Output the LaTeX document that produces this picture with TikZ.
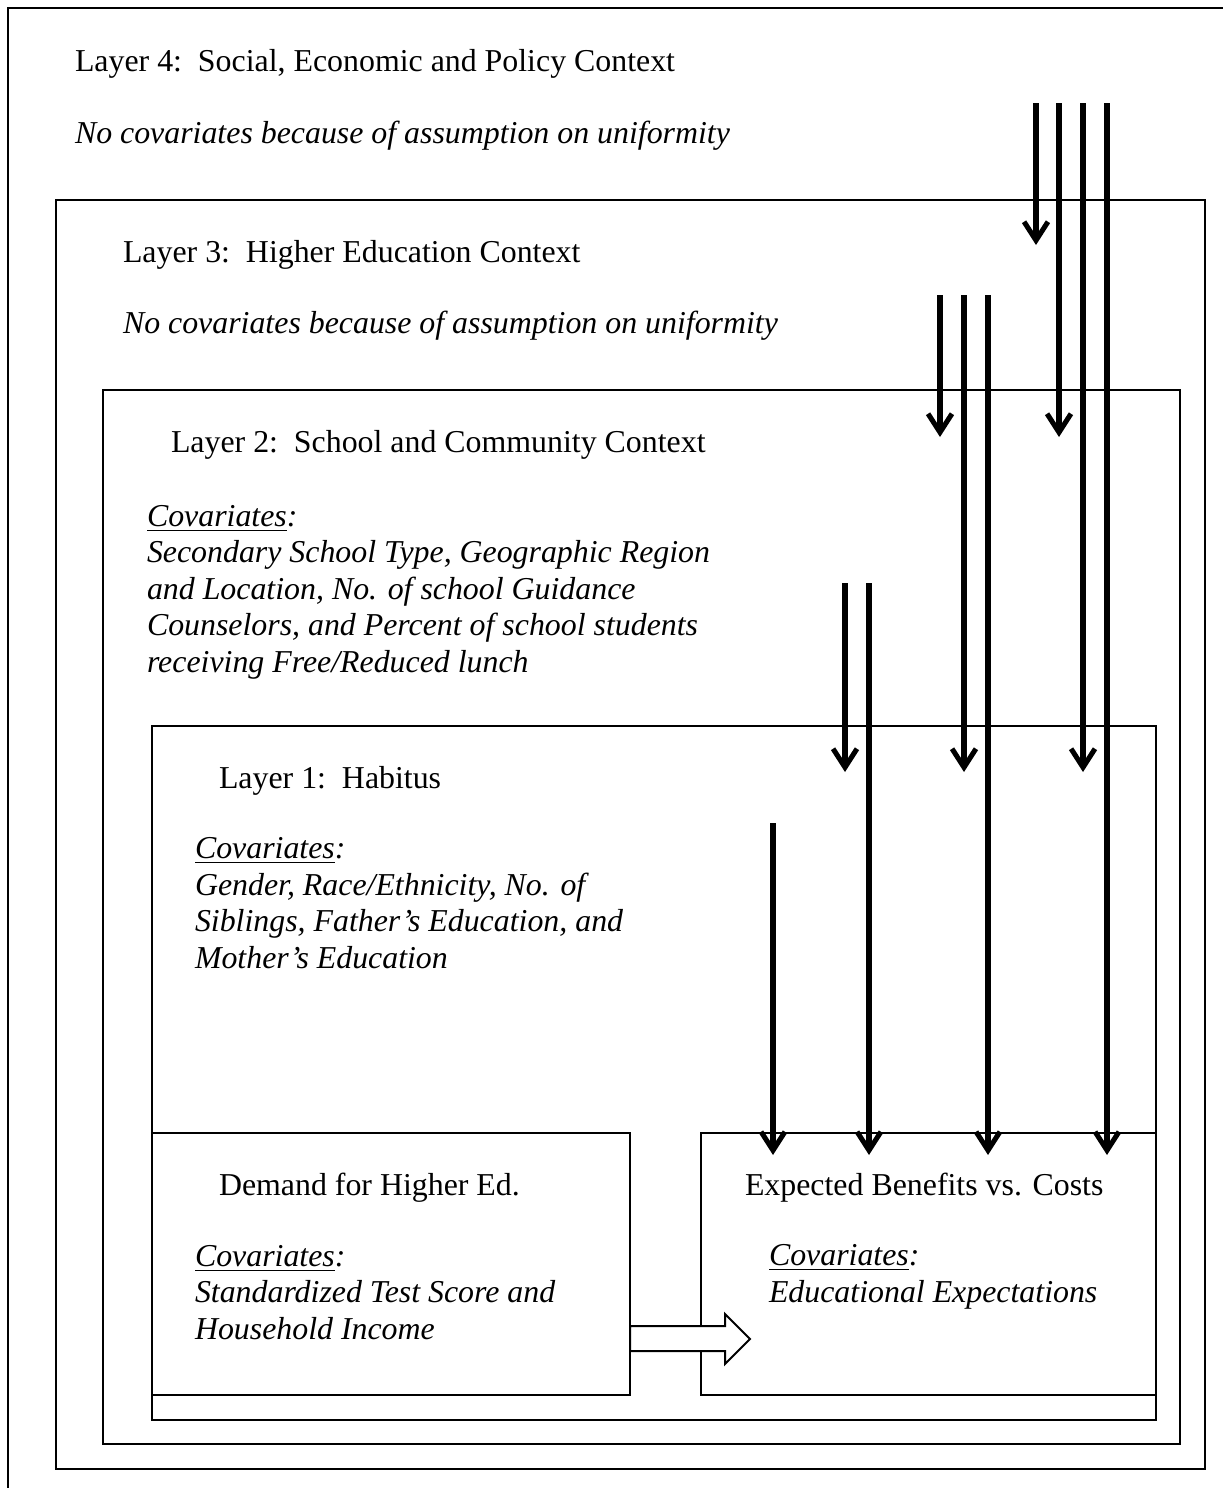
\documentclass[tikz,border=0pt]{standalone}
\usepackage{fontspec}
\setmainfont{Liberation Serif}
\usepackage{tikz}
\usetikzlibrary{arrows.meta,fit,calc}

\begin{document}
\begin{tikzpicture}[x=0.3766pt, y=-0.3766pt, outer sep=0pt, font=\fontsize{12}{13.7}\selectfont]

\tikzstyle{layer}=[draw, rectangle, line width=0.75pt, inner sep=0pt]
\tikzstyle{title}=[anchor=base west, inner sep=0pt]
\tikzstyle{covs}=[anchor=base west, inner sep=0pt, align=left, font=\fontsize{12}{13.7}\selectfont\itshape]
\tikzstyle{flow}=[line width=1.9pt, -{Straight Barb[length=7pt,width=9pt]}]
\tikzstyle{block}=[draw, line width=0.75pt, fill=white]

\useasboundingbox (0,0) rectangle (1223,1488);
\clip (0,0) rectangle (1223,1488);

% nested layers
\node[layer, fit={(8,8) (1240,1500)}] (l4) {};
\node[layer, fit={(56,200) (1205,1469)}] (l3) {};
\node[layer, fit={(103,390) (1180,1444)}] (l2) {};
\node[layer, fit={(152,726) (1156,1420)}] (l1) {};
\node[layer, fit={(152,1133) (630,1395)}] (demand) {};
\node[layer, fit={(701,1133) (1156,1395)}] (benefit) {};

% texts (multi-line ones sit on the baseline of their last line)
\node[title] (t4) at (75,71) {Layer 4:\ \ Social, Economic and Policy Context};
\node[covs] (c4) at (75,143) {No covariates because of assumption on uniformity};
\node[title] (t3) at (123,262) {Layer 3:\ \ Higher Education Context};
\node[covs] (c3) at (123,333) {No covariates because of assumption on uniformity};
\node[title] (t2) at (171,452) {Layer 2:\ \ School and Community Context};
\node[covs] (c2) at (147,672) {\underline{Covariates}:\\Secondary School Type, Geographic Region\\and Location, No. of school Guidance\\Counselors, and Percent of school students\\receiving Free/Reduced lunch};
\node[title] (t1) at (219,788) {Layer 1:\ \ Habitus};
\node[covs] (c1) at (195,968) {\underline{Covariates}:\\Gender, Race/Ethnicity, No. of\\Siblings, Father's Education, and\\Mother's Education};
\node[title] (td) at (219,1195) {Demand for Higher Ed.};
\node[covs] (cd) at (195,1339) {\underline{Covariates}:\\Standardized Test Score and\\Household Income};
\node[title] (tb) at (745,1195) {Expected Benefits vs. Costs};
\node[covs] (cb) at (769,1302) {\underline{Covariates}:\\Educational Expectations};

% arrow starts
\coordinate (s4a) at (1036,103); \coordinate (s4b) at (1059,103); \coordinate (s4c) at (1083,103); \coordinate (s4d) at (1107,103);
\coordinate (s3a) at (940,295); \coordinate (s3b) at (964,295); \coordinate (s3c) at (988,295);
\coordinate (s2a) at (845,583); \coordinate (s2b) at (869,583);
\coordinate (s1a) at (773,823);

\draw[flow] (s4a) -- ($(s4a |- l3.north)+(0,45)$);
\draw[flow] (s4b) -- ($(s4b |- l2.north)+(0,47)$);
\draw[flow] (s4c) -- ($(s4c |- l1.north)+(0,46)$);
\draw[flow] (s4d) -- ($(s4d |- benefit.north)+(0,22)$);
\draw[flow] (s3a) -- ($(s3a |- l2.north)+(0,47)$);
\draw[flow] (s3b) -- ($(s3b |- l1.north)+(0,46)$);
\draw[flow] (s3c) -- ($(s3c |- benefit.north)+(0,22)$);
\draw[flow] (s2a) -- ($(s2a |- l1.north)+(0,46)$);
\draw[flow] (s2b) -- ($(s2b |- benefit.north)+(0,22)$);
\draw[flow] (s1a) -- ($(s1a |- benefit.north)+(0,22)$);

% demand to benefits
\coordinate (push) at ($(demand.south east)+(0,-57)$);
\draw[block] (push) ++(0,-12) -- ++(95,0) -- ++(0,-12) -- ++(25,25) -- ++(-25,25) -- ++(0,-13) -- ++(-95,0) -- cycle;

\end{tikzpicture}
\end{document}
